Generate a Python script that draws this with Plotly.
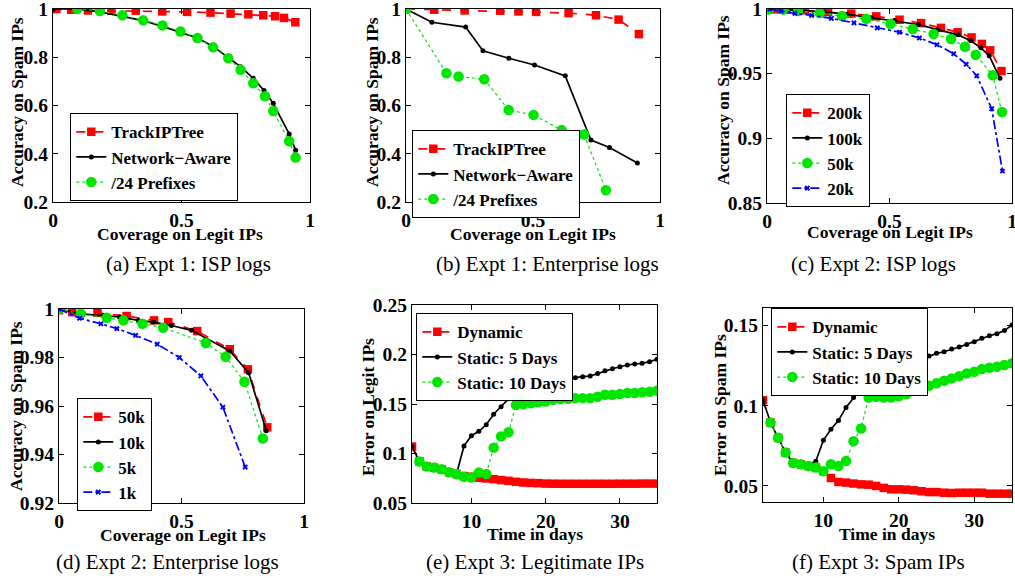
import plotly.graph_objects as go

W, H = 1015, 578
FONT = "Liberation Serif"
RED, BLACK, GREEN, BLUE = "#ff0000", "#000000", "#00e600", "#0000ff"

# ---------------- data ----------------
# (a) Expt 1: ISP logs
a_track_x = [0, 0.013, 0.071, 0.136, 0.227, 0.322, 0.425, 0.522, 0.613, 0.691, 0.760, 0.818, 0.864, 0.899, 0.943]
a_track_y = [1.0, 1.0, 0.997, 0.994, 0.993, 0.993, 0.990, 0.988, 0.985, 0.981, 0.978, 0.974, 0.970, 0.963, 0.945]
a_net_x = [0, 0.094, 0.182, 0.270, 0.351, 0.426, 0.494, 0.562, 0.623, 0.682, 0.730, 0.779, 0.821, 0.857, 0.919, 0.944]
a_net_y = [1.0, 1.0, 0.988, 0.970, 0.952, 0.928, 0.905, 0.880, 0.845, 0.800, 0.761, 0.713, 0.662, 0.609, 0.482, 0.415]
a_pre_x = [0.094, 0.182, 0.270, 0.351, 0.426, 0.496, 0.562, 0.623, 0.682, 0.730, 0.779, 0.825, 0.857, 0.919, 0.944]
a_pre_y = [1.0, 0.992, 0.974, 0.953, 0.932, 0.907, 0.880, 0.841, 0.796, 0.748, 0.692, 0.638, 0.577, 0.452, 0.384]

# (b) Expt 1: Enterprise logs
b_track_x = [0, 0.111, 0.231, 0.371, 0.443, 0.512, 0.640, 0.748, 0.837, 0.917]
b_track_y = [1.0, 0.997, 0.994, 0.993, 0.990, 0.988, 0.983, 0.974, 0.956, 0.896]
b_net_x = [0, 0.102, 0.235, 0.303, 0.405, 0.506, 0.627, 0.728, 0.801, 0.911]
b_net_y = [1.0, 0.945, 0.925, 0.827, 0.796, 0.768, 0.723, 0.457, 0.426, 0.362]
b_pre_x = [0, 0.159, 0.207, 0.308, 0.404, 0.502, 0.613, 0.701, 0.787]
b_pre_y = [1.0, 0.734, 0.720, 0.709, 0.581, 0.561, 0.498, 0.480, 0.249]

# (c) Expt 2: ISP logs
c_200_x = [0.005, 0.033, 0.080, 0.154, 0.249, 0.344, 0.446, 0.541, 0.629, 0.710, 0.778, 0.835, 0.877, 0.911, 0.957]
c_200_y = [1.0, 0.9997, 0.9995, 0.999, 0.9977, 0.9964, 0.9943, 0.9917, 0.9891, 0.9854, 0.982, 0.978, 0.973, 0.968, 0.952]
c_100_x = [0.003, 0.066, 0.141, 0.229, 0.324, 0.425, 0.520, 0.618, 0.696, 0.780, 0.832, 0.873, 0.907, 0.951]
c_100_y = [1.0, 0.9995, 0.9984, 0.998, 0.996, 0.9933, 0.9912, 0.988, 0.984, 0.980, 0.9755, 0.970, 0.9638, 0.9464]
c_50_x = [0.008, 0.066, 0.127, 0.215, 0.306, 0.405, 0.504, 0.595, 0.680, 0.751, 0.808, 0.852, 0.921, 0.959]
c_50_y = [0.9997, 0.9995, 0.9984, 0.9969, 0.9945, 0.9924, 0.9885, 0.9846, 0.9807, 0.9768, 0.9708, 0.9646, 0.9487, 0.9203]
c_20_x = [0.012, 0.057, 0.114, 0.182, 0.263, 0.355, 0.450, 0.541, 0.622, 0.694, 0.762, 0.813, 0.856, 0.917, 0.961]
c_20_y = [1.0, 0.9984, 0.9966, 0.9951, 0.9927, 0.9893, 0.9854, 0.9820, 0.9776, 0.9724, 0.9654, 0.9573, 0.9484, 0.9229, 0.8747]

# (d) Expt 2: Enterprise logs
d_50_x = [0, 0.054, 0.157, 0.276, 0.388, 0.446, 0.564, 0.697, 0.771, 0.850]
d_50_y = [0.9995, 0.9987, 0.9984, 0.9971, 0.9953, 0.9946, 0.9909, 0.9834, 0.9751, 0.9512]
d_10_x = [0, 0.087, 0.182, 0.247, 0.324, 0.385, 0.459, 0.541, 0.697, 0.774, 0.846]
d_10_y = [1.0, 0.998, 0.9973, 0.9967, 0.9953, 0.9946, 0.9932, 0.9912, 0.9827, 0.9737, 0.9498]
d_5_x = [0, 0.089, 0.195, 0.263, 0.341, 0.425, 0.599, 0.680, 0.757, 0.832]
d_5_y = [1.0, 0.998, 0.9964, 0.9953, 0.9939, 0.9923, 0.986, 0.9803, 0.970, 0.9466]
d_1_x = [0, 0.084, 0.171, 0.236, 0.313, 0.401, 0.491, 0.579, 0.669, 0.760]
d_1_y = [1.0, 0.9962, 0.9939, 0.9919, 0.9891, 0.9855, 0.980, 0.9724, 0.9595, 0.9348]

# (e) Expt 3: Legitimate IPs
days_all = [2, 3, 4, 5, 6, 7, 8, 9, 10, 11, 12, 13, 14, 15, 16, 17, 18, 19, 20,
            21, 22, 23, 24, 25, 26, 27, 28, 29, 30, 31, 32, 33, 34, 35]
days_from3 = days_all[1:]
e_dynamic = [0.107, 0.092, 0.087, 0.0855, 0.084, 0.081, 0.0793, 0.0772, 0.0765, 0.0755, 0.0748, 0.0741,
             0.0731, 0.0724, 0.0714, 0.0707, 0.0703, 0.070, 0.0696, 0.0695, 0.0694, 0.0694, 0.0694, 0.0694,
             0.0694, 0.0694, 0.0694, 0.0694, 0.0695, 0.0695, 0.0695, 0.0696, 0.0696, 0.0696]
e_static5 = [0.107, 0.092, 0.087, 0.0855, 0.084, 0.081, 0.0793, 0.1076, 0.118, 0.1224, 0.129, 0.1397,
             0.1473, 0.1552, 0.160, 0.1635, 0.1656, 0.168, 0.1704, 0.1725, 0.1742, 0.1756, 0.1766, 0.1776,
             0.1783, 0.1807, 0.1835, 0.1856, 0.1876, 0.1894, 0.1904, 0.1911, 0.1928, 0.1952]
e_static10 = [0.092, 0.0869, 0.0859, 0.0841, 0.081, 0.0793, 0.0765, 0.0758, 0.0807, 0.0793, 0.1059,
              0.1172, 0.1214, 0.149, 0.1497, 0.1507, 0.1518, 0.1524, 0.1542, 0.1549, 0.1552, 0.1559,
              0.1559, 0.1559, 0.1573, 0.1593, 0.1593, 0.160, 0.1611, 0.1611, 0.1618, 0.1624, 0.1635]

# (f) Expt 3: Spam IPs
f_dynamic = [0.1035, 0.0896, 0.080, 0.0708, 0.0644, 0.0635, 0.0625, 0.0615, 0.0592, 0.055, 0.0525, 0.0521,
             0.0515, 0.051, 0.0508, 0.050, 0.0488, 0.0479, 0.0479, 0.0477, 0.0473, 0.0467, 0.0462, 0.0462,
             0.0458, 0.0456, 0.0458, 0.0458, 0.0458, 0.0458, 0.0452, 0.0452, 0.0452, 0.0452]
f_static5 = [0.1035, 0.0896, 0.080, 0.0708, 0.0644, 0.0635, 0.0625, 0.0654, 0.0785, 0.0854, 0.0908, 0.099,
             0.1052, 0.1108, 0.1144, 0.1171, 0.1188, 0.121, 0.123, 0.125, 0.127, 0.129, 0.131, 0.1327,
             0.1337, 0.1354, 0.1367, 0.1383, 0.140, 0.1421, 0.1437, 0.145, 0.1469, 0.1504]
f_static10 = [0.0896, 0.080, 0.0708, 0.0644, 0.0635, 0.0625, 0.0615, 0.0592, 0.0635, 0.0625, 0.0656,
              0.0779, 0.0858, 0.1052, 0.1056, 0.1052, 0.1052, 0.106, 0.1073, 0.1094, 0.1108, 0.1125,
              0.114, 0.1156, 0.1171, 0.1185, 0.1202, 0.1212, 0.1229, 0.1237, 0.1244, 0.1254, 0.1265]

# tick labels
cov_ticks = [0, 0.5, 1]
cov_text = ["0", "0.5", "1"]
acc1_ticks = [0.2, 0.4, 0.6, 0.8, 1.0]
acc1_text = ["0.2", "0.4", "0.6", "0.8", "1"]
acc_c_ticks = [0.85, 0.9, 0.95, 1.0]
acc_c_text = ["0.85", "0.9", "0.95", "1"]
acc_d_ticks = [0.92, 0.94, 0.96, 0.98, 1.0]
acc_d_text = ["0.92", "0.94", "0.96", "0.98", "1"]
day_ticks = [10, 20, 30]
day_text = ["10", "20", "30"]
err_e_ticks = [0.05, 0.1, 0.15, 0.2, 0.25]
err_e_text = ["0.05", "0.1", "0.15", "0.2", "0.25"]
err_f_ticks = [0.05, 0.1, 0.15]
err_f_text = ["0.05", "0.1", "0.15"]

captions = ["(a) Expt 1: ISP logs", "(b) Expt 1: Enterprise logs", "(c) Expt 2: ISP logs",
            "(d) Expt 2: Enterprise logs", "(e) Expt 3: Legitimate IPs", "(f) Expt 3: Spam IPs"]

# ---------------- layout helpers ----------------
# plot boxes in pixels: (left, right, top, bottom)
boxes = {1: (53, 310, 9, 202), 2: (406, 660, 9, 202), 3: (767, 1012, 9, 203),
         4: (59, 304, 309, 503), 5: (412, 657, 305, 503), 6: (763, 1012, 308, 502)}

def fx(p):
    return p / W

def fy(p):
    return 1 - p / H

fig = go.Figure()

def mk(name, x, y, k, line, marker):
    return go.Scatter(x=x, y=y, name=name, mode="lines+markers", line=line, marker=marker,
                      xaxis=f"x{k if k > 1 else ''}", yaxis=f"y{k if k > 1 else ''}",
                      legend=f"legend{k if k > 1 else ''}", hoverinfo="skip")

def red_style(name, x, y, k):
    return mk(name, x, y, k, dict(color=RED, dash="dash", width=1.7),
              dict(symbol="square", size=8.5, color=RED))

def black_style(name, x, y, k):
    return mk(name, x, y, k, dict(color=BLACK, width=1.7),
              dict(symbol="circle", size=5, color=BLACK))

def green_style(name, x, y, k):
    return mk(name, x, y, k, dict(color=GREEN, dash="dot", width=1.2),
              dict(symbol="circle", size=10.5, color=GREEN))

def blue_style(name, x, y, k):
    return mk(name, x, y, k, dict(color=BLUE, dash="dashdot", width=1.7),
              dict(symbol="x", size=5, color=BLUE))

# (a)
fig.add_trace(red_style("TrackIPTree", a_track_x, a_track_y, 1))
fig.add_trace(black_style("Network\u2212Aware", a_net_x, a_net_y, 1))
fig.add_trace(green_style("/24 Prefixes", a_pre_x, a_pre_y, 1))
# (b)
fig.add_trace(red_style("TrackIPTree", b_track_x, b_track_y, 2))
fig.add_trace(black_style("Network\u2212Aware", b_net_x, b_net_y, 2))
fig.add_trace(green_style("/24 Prefixes", b_pre_x, b_pre_y, 2))
# (c)
fig.add_trace(red_style("200k", c_200_x, c_200_y, 3))
fig.add_trace(black_style("100k", c_100_x, c_100_y, 3))
fig.add_trace(green_style("50k", c_50_x, c_50_y, 3))
fig.add_trace(blue_style("20k", c_20_x, c_20_y, 3))
# (d)
fig.add_trace(red_style("50k", d_50_x, d_50_y, 4))
fig.add_trace(black_style("10k", d_10_x, d_10_y, 4))
fig.add_trace(green_style("5k", d_5_x, d_5_y, 4))
fig.add_trace(blue_style("1k", d_1_x, d_1_y, 4))
# (e)
fig.add_trace(red_style("Dynamic", days_all, e_dynamic, 5))
fig.add_trace(black_style("Static: 5 Days", days_all, e_static5, 5))
fig.add_trace(green_style("Static: 10 Days", days_from3, e_static10, 5))
# (f)
fig.add_trace(red_style("Dynamic", days_all, f_dynamic, 6))
fig.add_trace(black_style("Static: 5 Days", days_all, f_static5, 6))
fig.add_trace(green_style("Static: 10 Days", days_from3, f_static10, 6))

tickfont = dict(family=FONT, size=19.5, color="black", weight="bold")
axis_specs = {
    1: ([0, 1], cov_ticks, cov_text, [0.2, 1.0], acc1_ticks, acc1_text),
    2: ([0, 1], cov_ticks, cov_text, [0.2, 1.0], acc1_ticks, acc1_text),
    3: ([0, 1], cov_ticks, cov_text, [0.85, 1.0], acc_c_ticks, acc_c_text),
    4: ([0, 1], cov_ticks, cov_text, [0.92, 1.0], acc_d_ticks, acc_d_text),
    5: ([2, 35], day_ticks, day_text, [0.05, 0.25], err_e_ticks, err_e_text),
    6: ([2, 35], day_ticks, day_text, [0.04, 0.161], err_f_ticks, err_f_text),
}
layout = {}
for k, (xr, xt, xtt, yr, yt, ytt) in axis_specs.items():
    l, r, t, b = boxes[k]
    sfx = "" if k == 1 else str(k)
    common = dict(showline=True, linecolor="black", linewidth=1.3, mirror="allticks",
                  ticks="inside", ticklen=5, tickwidth=1, tickcolor="black", automargin=False,
                  showgrid=False, zeroline=False, tickfont=tickfont, tickmode="array",
                  ticklabeloverflow="allow", ticklabelstandoff=0)
    layout[f"xaxis{sfx}"] = dict(domain=[fx(l), fx(r)], range=xr, tickvals=xt, ticktext=xtt,
                                 anchor=f"y{sfx}", **common)
    layout[f"yaxis{sfx}"] = dict(domain=[fy(b), fy(t)], range=yr, tickvals=yt, ticktext=ytt,
                                 anchor=f"x{sfx}", **common)

legend_pos = {1: (70, 113), 2: (412, 130), 3: (786, 94), 4: (77, 398), 5: (416, 313), 6: (771, 308)}
for k, (lx, ly) in legend_pos.items():
    sfx = "" if k == 1 else str(k)
    layout[f"legend{sfx}"] = dict(x=fx(lx), y=fy(ly), xanchor="left", yanchor="top",
                                  bordercolor="black", borderwidth=1.3, bgcolor="white",
                                  font=dict(family=FONT, size=17, color="black", weight="bold"),
                                  itemwidth=30, tracegroupgap=0)

titlefont = dict(family=FONT, size=17.5, color="black", weight="bold")
annotations = []
xtitles = [("Coverage on Legit IPs", 180, 234), ("Coverage on Legit IPs", 533, 234),
           ("Coverage on Legit IPs", 890, 232), ("Coverage on Legit IPs", 183, 535),
           ("Time in days", 535, 534), ("Time in days", 887, 534)]
ytitles = [("Accuracy on Spam IPs", 17, 102), ("Accuracy on Spam IPs", 372, 102),
           ("Accuracy on Spam IPs", 723, 100), ("Accuracy on Spam IPs", 16, 406),
           ("Error on Legit IPs", 368, 407), ("Error on Spam IPs", 720, 405)]
for txt, x, y in xtitles:
    annotations.append(dict(text=txt, x=fx(x), y=fy(y), xref="paper", yref="paper",
                            showarrow=False, font=titlefont, xanchor="center", yanchor="middle"))
for txt, x, y in ytitles:
    annotations.append(dict(text=txt, x=fx(x), y=fy(y), xref="paper", yref="paper", textangle=-90,
                            showarrow=False, font=titlefont, xanchor="center", yanchor="middle"))
cap_pos = [(188, 264), (547, 264), (873, 264), (167, 562), (535, 562), (878, 562)]
for txt, (x, y) in zip(captions, cap_pos):
    annotations.append(dict(text=txt, x=fx(x), y=fy(y), xref="paper", yref="paper",
                            showarrow=False, font=dict(family=FONT, size=21, color="black"),
                            xanchor="center", yanchor="middle"))

fig.update_layout(width=W, height=H, margin=dict(l=0, r=0, t=0, b=0, autoexpand=False),
                  paper_bgcolor="white", plot_bgcolor="white", showlegend=True,
                  annotations=annotations, **layout)

fig.write_html("out.html", config={"displayModeBar": False},
               post_script="document.body.style.margin='0';")
